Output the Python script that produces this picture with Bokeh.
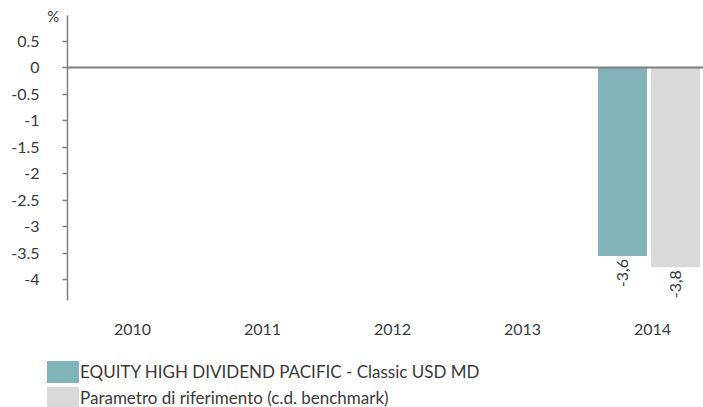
import math
from bokeh.plotting import figure
from bokeh.layouts import column
from bokeh.models import ColumnDataSource, Range1d, FixedTicker, Div
from bokeh.transform import dodge
from bokeh.core.properties import value
from bokeh.embed import file_html
from bokeh.resources import INLINE

years = ["2010", "2011", "2012", "2013", "2014"]
fund_values = [float("nan"), float("nan"), float("nan"), float("nan"), -3.55]
bench_values = [float("nan"), float("nan"), float("nan"), float("nan"), -3.76]
fund_labels = ["", "", "", "", "-3,6"]
bench_labels = ["", "", "", "", "-3,8"]
fund_name = "EQUITY HIGH DIVIDEND PACIFIC - Classic USD MD"
bench_name = "Parametro di riferimento (c.d. benchmark)"
y_unit = "%"
y_ticks = [0.5, 0, -0.5, -1, -1.5, -2, -2.5, -3, -3.5, -4]
y_tick_labels = ["0.5", "0", "-0.5", "-1", "-1.5", "-2", "-2.5", "-3", "-3.5", "-4"]

FONT = "Lato"
TXT = "#3a3a3a"
TEAL = "#7fb3b9"
GRAY = "#d9d9d9"

# category slots: one unit per year, centred at i + 0.5
x_pos = [i + 0.5 for i in range(len(years))]

src = ColumnDataSource(dict(x=x_pos, year=years, fund=fund_values, bench=bench_values,
                            fl=fund_labels, bl=bench_labels))

# the source chart is cropped on the right, so the last slot is only partly visible
p = figure(x_range=Range1d(0, 4.892), y_range=Range1d(-4.39, 0.99),
           width=703, height=352, output_backend="svg", toolbar_location=None,
           min_border_left=67, min_border_right=0, min_border_top=15, min_border_bottom=52)
p.outline_line_color = None
p.grid.grid_line_color = None
p.background_fill_color = "white"

OFF1, OFF2, BW = -0.231, 0.177, 0.377
p.vbar(x=dodge("x", OFF1), top="fund", bottom=0, width=BW,
       source=src, fill_color=TEAL, line_color=None)
p.vbar(x=dodge("x", OFF2), top="bench", bottom=0, width=BW,
       source=src, fill_color=GRAY, line_color=None)

p.hspan(y=[0], line_color="#7f7f7f", line_width=2)

p.text(x=dodge("x", OFF1), y="fund", text="fl", source=src,
       angle=math.pi / 2, text_align="right", text_baseline="middle", y_offset=3,
       text_font=value(FONT), text_font_size="16px", text_color=TXT)
p.text(x=dodge("x", OFF2), y="bench", text="bl", source=src,
       angle=math.pi / 2, text_align="right", text_baseline="middle", y_offset=3,
       text_font=value(FONT), text_font_size="16px", text_color=TXT)

ya = p.yaxis[0]
ya.ticker = FixedTicker(ticks=y_ticks)
ya.major_label_overrides = {t: l for t, l in zip(y_ticks, y_tick_labels)}
ya.axis_line_color = "#808080"
ya.axis_line_width = 1.5
ya.major_tick_line_color = "#808080"
ya.major_tick_line_width = 1.5
ya.major_tick_in = 0
ya.major_tick_out = 5
ya.minor_tick_line_color = None
ya.major_label_standoff = 23
ya.major_label_text_font = FONT
ya.major_label_text_font_size = "16px"
ya.major_label_text_color = TXT
ya.axis_label = y_unit
ya.axis_label_orientation = "horizontal"
ya.axis_label_align = "end"
ya.axis_label_standoff = -51
ya.axis_label_text_baseline = "top"
ya.axis_label_text_font = FONT
ya.axis_label_text_font_style = "normal"
ya.axis_label_text_font_size = "15px"
ya.axis_label_text_color = TXT

xa = p.xaxis[0]
xa.ticker = FixedTicker(ticks=x_pos)
xa.major_label_overrides = {x: y for x, y in zip(x_pos, years)}
xa.axis_line_color = None
xa.major_tick_line_color = None
xa.minor_tick_line_color = None
xa.major_label_standoff = 17
xa.major_label_text_font = FONT
xa.major_label_text_font_size = "16px"
xa.major_label_text_color = TXT

# legend strip below the chart
rows = ""
for name, color in zip([fund_name, bench_name], [TEAL, GRAY]):
    rows += (f'<div style="display:flex;align-items:center;height:22px;margin-bottom:4px;">'
             f'<span style="display:inline-block;flex:none;width:32px;height:22px;'
             f'background:{color};margin-right:1px;"></span>'
             f'<span style="font-family:{FONT};font-size:17px;color:{TXT};'
             f'white-space:nowrap;line-height:22px;">{name}</span></div>')
html = (f'<div style="box-sizing:border-box;width:703px;height:55px;overflow:hidden;'
        f'padding:9px 0 0 47px;margin:0;">{rows}</div>')
legend_div = Div(text=html, width=703, height=55, margin=0)

layout = column(p, legend_div, spacing=0)
open("out.html", "w").write(file_html(layout, INLINE))
